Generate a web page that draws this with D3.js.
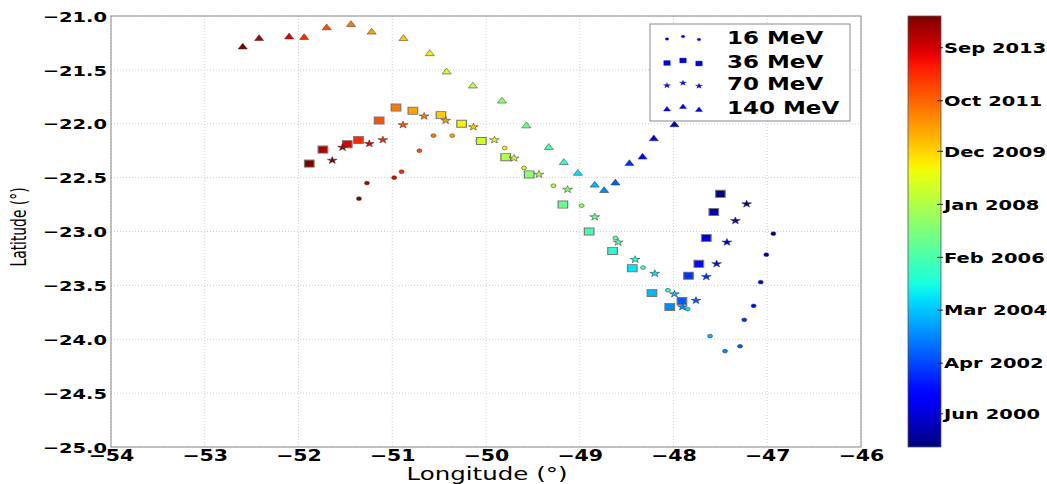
<!DOCTYPE html>
<html><head><meta charset="utf-8">
<script src="https://cdn.jsdelivr.net/npm/d3@7"></script>
<style>body{margin:0;background:#fff}svg{display:block}</style>
</head><body>
<svg id="chart" width="1047" height="484"></svg>
<script>
// ---- data ----
const times = [1999.20, 1999.88, 2000.56, 2001.23, 2001.91, 2002.59, 2003.27, 2003.95, 2004.63, 2005.30, 2005.98, 2006.66, 2007.34, 2008.02, 2008.70, 2009.37, 2010.05, 2010.73, 2011.41, 2012.09, 2012.77, 2013.44, 2014.12, 2014.80];
const circlesLon = [-46.935, -47.01, -47.07, -47.145, -47.245, -47.29, -47.45, -47.61, -47.85, -48.06, -48.325, -48.62, -48.98, -49.28, -49.595, -49.80, -50.08, -50.36, -50.56, -50.71, -50.90, -50.98, -51.27, -51.355];
const circlesLat = [-23.02, -23.215, -23.47, -23.69, -23.82, -24.065, -24.11, -23.97, -23.72, -23.545, -23.335, -23.06, -22.76, -22.575, -22.41, -22.225, -22.16, -22.11, -22.11, -22.25, -22.445, -22.50, -22.55, -22.695];
const squaresLon = [-47.50, -47.57, -47.65, -47.73, -47.84, -47.91, -48.04, -48.23, -48.44, -48.65, -48.90, -49.18, -49.54, -49.79, -50.05, -50.26, -50.48, -50.78, -50.96, -51.14, -51.36, -51.48, -51.74, -51.885];
const squaresLat = [-22.65, -22.82, -23.06, -23.30, -23.41, -23.645, -23.70, -23.57, -23.34, -23.18, -23.00, -22.75, -22.47, -22.31, -22.16, -22.00, -21.92, -21.88, -21.85, -21.97, -22.15, -22.19, -22.24, -22.37];
const starsLon = [-47.22, -47.34, -47.43, -47.54, -47.65, -47.76, -47.905, -47.99, -48.20, -48.41, -48.59, -48.84, -49.13, -49.435, -49.70, -49.91, -50.135, -50.43, -50.66, -50.885, -51.10, -51.245, -51.53, -51.64];
const starsLat = [-22.745, -22.90, -23.10, -23.30, -23.42, -23.64, -23.70, -23.58, -23.39, -23.26, -23.10, -22.865, -22.61, -22.47, -22.32, -22.15, -22.03, -21.97, -21.93, -22.01, -22.15, -22.185, -22.22, -22.34];
const trianglesLon = [-47.82, -47.99, -48.21, -48.33, -48.47, -48.62, -48.74, -48.84, -49.02, -49.17, -49.33, -49.57, -49.83, -50.14, -50.42, -50.60, -50.88, -51.22, -51.44, -51.70, -51.94, -52.10, -52.42, -52.595];
const trianglesLat = [-21.88, -22.01, -22.14, -22.31, -22.37, -22.55, -22.62, -22.57, -22.46, -22.36, -22.22, -22.02, -21.79, -21.65, -21.52, -21.35, -21.21, -21.15, -21.08, -21.11, -21.20, -21.195, -21.21, -21.288];
const seriesNames = ["16 MeV", "36 MeV", "70 MeV", "140 MeV"];
const xTicks = [-54, -53, -52, -51, -50, -49, -48, -47, -46];
const yTicks = [-25.0, -24.5, -24.0, -23.5, -23.0, -22.5, -22.0, -21.5, -21.0];
const cbTickLabels = ["Jun 2000", "Apr 2002", "Mar 2004", "Feb 2006", "Jan 2008", "Dec 2009", "Oct 2011", "Sep 2013"];
const cbTickValues = [2000.42, 2002.25, 2004.17, 2006.08, 2008.00, 2009.92, 2011.75, 2013.67];
const timeDomain = [1999.20, 2014.80];

// ---- setup ----
const svg = d3.select("#chart");
const L = 111, R = 861, T = 16, B = 447;
const SY = 0.74;
const x = d3.scaleLinear().domain([-54, -46]).range([L, R]);
const y = d3.scaleLinear().domain([-25, -21]).range([B, T]);

function jetChannel(pts, v) {
  for (let k = 0; k < pts.length - 1; k++) {
    if (v <= pts[k + 1][0]) {
      const t = (v - pts[k][0]) / (pts[k + 1][0] - pts[k][0]);
      return pts[k][1] + t * (pts[k + 1][1] - pts[k][1]);
    }
  }
  return pts[pts.length - 1][1];
}
const JR = [[0, 0], [0.35, 0], [0.66, 1], [0.89, 1], [1, 0.5]];
const JG = [[0, 0], [0.125, 0], [0.375, 1], [0.64, 1], [0.91, 0], [1, 0]];
const JB = [[0, 0.5], [0.11, 1], [0.34, 1], [0.65, 0], [1, 0]];
function jet(v) {
  v = Math.max(0, Math.min(1, v));
  return d3.rgb(255 * jetChannel(JR, v), 255 * jetChannel(JG, v), 255 * jetChannel(JB, v)).formatHex();
}
const tNorm = d3.scaleLinear().domain(timeDomain).range([0, 1]);
const color = t => jet(tNorm(t));

// grid
const grid = svg.append("g");
grid.selectAll(".gx").data(xTicks).join("line")
  .attr("x1", d => x(d)).attr("x2", d => x(d)).attr("y1", T).attr("y2", B)
  .attr("stroke", "#cfcfcf").attr("stroke-dasharray", "1,2").attr("stroke-width", 1);
grid.selectAll(".gy").data(yTicks).join("line")
  .attr("y1", d => y(d)).attr("y2", d => y(d)).attr("x1", L).attr("x2", R)
  .attr("stroke", "#cfcfcf").attr("stroke-dasharray", "1,2").attr("stroke-width", 1);

// axes
const xAxis = svg.append("g").attr("transform", `translate(0,${B})`)
  .call(d3.axisBottom(x).tickValues(xTicks).tickFormat(d3.format("d")).tickSize(0));
xAxis.select(".domain").remove();
xAxis.selectAll("text").attr("y", 19).attr("dy", 0)
  .attr("transform", `scale(1,${SY})`)
  .attr("font-family", "DejaVu Sans").attr("font-weight", "bold").attr("font-size", 20.5).attr("fill", "#000");

const yAxis = svg.append("g").attr("transform", `translate(${L},0)`)
  .call(d3.axisLeft(y).tickValues(yTicks).tickFormat(d3.format(".1f")).tickSize(0));
yAxis.select(".domain").remove();
yAxis.selectAll(".tick").each(function () {
  const g = d3.select(this);
  const tr = g.attr("transform");
  const ty = +tr.match(/translate\(([^,]+),([^)]+)\)/)[2];
  g.attr("transform", `translate(0,${ty}) scale(1,${SY})`);
});
yAxis.selectAll("text").attr("x", -4).attr("dy", "0.36em")
  .attr("font-family", "DejaVu Sans").attr("font-weight", "bold").attr("font-size", 19.5).attr("fill", "#000");

// frame
svg.append("rect").attr("x", L).attr("y", T).attr("width", R - L).attr("height", B - T)
  .attr("fill", "none").attr("stroke", "#8a8a8a").attr("stroke-width", 1);

// axis labels
svg.append("text").attr("transform", `translate(487,480) scale(1,${SY})`)
  .attr("text-anchor", "middle").attr("font-family", "DejaVu Sans").attr("font-size", 24.5)
  .attr("fill", "#000").text("Longitude (°)");
svg.append("text").attr("transform", `translate(26,227) scale(1,0.66) rotate(-90)`)
  .attr("text-anchor", "middle").attr("font-family", "DejaVu Sans").attr("font-size", 21)
  .attr("fill", "#000").text("Latitude (°)");

// markers
const series = [
  { lon: circlesLon, lat: circlesLat, type: d3.symbolCircle, size: 20, lsize: 9, stroke: "#333", sw: 0.6 },
  { lon: squaresLon, lat: squaresLat, type: d3.symbolSquare, size: 92, lsize: 42, stroke: "#777", sw: 1.2 },
  { lon: starsLon, lat: starsLat, type: d3.symbolStar, size: 30, lsize: 15, stroke: "#333", sw: 0.6 },
  { lon: trianglesLon, lat: trianglesLat, type: d3.symbolTriangle, size: 36, lsize: 22, stroke: "#333", sw: 0.6 }
];
const plot = svg.append("g");
series.forEach(s => {
  const pts = times.map((t, i) => ({ t, lon: s.lon[i], lat: s.lat[i] }));
  plot.append("g").selectAll("path").data(pts).join("path")
    .attr("d", d3.symbol().type(s.type).size(s.size)())
    .attr("transform", d => `translate(${x(d.lon)},${y(d.lat)}) scale(1,${SY})`)
    .attr("fill", d => color(d.t)).attr("stroke", s.stroke).attr("stroke-width", s.sw);
});

// legend
const lg = svg.append("g");
lg.append("rect").attr("x", 650).attr("y", 24).attr("width", 200).attr("height", 97)
  .attr("fill", "#fff").attr("stroke", "#8a8a8a").attr("stroke-width", 1);
const legendRowY = [37.5, 61.5, 84, 108];
const legendMarkX = [667, 683, 699];
const legendMarkDY = [1.5, -1, 2];
seriesNames.forEach((name, k) => {
  const s = series[k];
  legendMarkX.forEach((mx, j) => {
    lg.append("path").attr("d", d3.symbol().type(s.type).size(s.lsize)())
      .attr("transform", `translate(${mx},${legendRowY[k] + legendMarkDY[j]}) scale(1,${SY})`)
      .attr("fill", "#0000e6").attr("stroke", "#0000a0").attr("stroke-width", 0.4);
  });
  lg.append("text").attr("transform", `translate(727,${legendRowY[k]}) scale(1,${SY})`)
    .attr("dy", "0.36em").attr("font-family", "DejaVu Sans").attr("font-weight", "bold")
    .attr("font-size", 23).attr("fill", "#000").text(name);
});

// colorbar
const cbX = 908, cbW = 33;
const cy = d3.scaleLinear().domain(timeDomain).range([B, T]);
const defs = svg.append("defs");
const grad = defs.append("linearGradient").attr("id", "jetgrad")
  .attr("x1", 0).attr("y1", 1).attr("x2", 0).attr("y2", 0);
d3.range(0, 1.0001, 0.02).forEach(v => {
  grad.append("stop").attr("offset", v).attr("stop-color", jet(v));
});
svg.append("rect").attr("x", cbX).attr("y", T).attr("width", cbW).attr("height", B - T)
  .attr("fill", "url(#jetgrad)").attr("stroke", "#555").attr("stroke-width", 0.8);
const cbAxis = svg.append("g").attr("transform", `translate(${cbX + cbW},0)`)
  .call(d3.axisRight(cy).tickValues(cbTickValues).tickFormat((d, i) => cbTickLabels[i]).tickSize(0));
cbAxis.select(".domain").remove();
cbAxis.selectAll(".tick").each(function () {
  const g = d3.select(this);
  const ty = +g.attr("transform").match(/translate\(([^,]+),([^)]+)\)/)[2];
  g.attr("transform", `translate(0,${ty})`);
  g.append("line").attr("x1", -4).attr("x2", 2).attr("stroke", "#222").attr("stroke-width", 1);
  g.select("text").attr("transform", `scale(1,${SY})`);
});
cbAxis.selectAll("text").attr("x", 3).attr("dy", "0.36em")
  .attr("font-family", "DejaVu Sans").attr("font-weight", "bold").attr("font-size", 19.5).attr("fill", "#000");
</script>
</body></html>
